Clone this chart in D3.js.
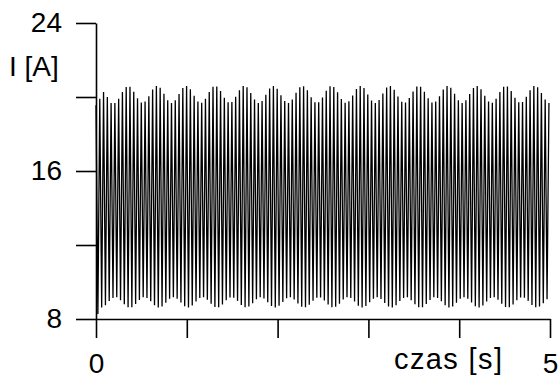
<!DOCTYPE html>
<html>
<head>
<meta charset="utf-8">
<script src="https://cdn.jsdelivr.net/npm/d3@7"></script>
<style>
  body { margin: 0; background: #fff; }
  svg text { font-family: "Liberation Sans", Arial, sans-serif; fill: #000; }
</style>
</head>
<body>
<script>
// current peaks (one per oscillation) and the troughs between them
var peakValues = [
  19.55, 19.91, 20.27, 20.00, 19.68, 19.68, 19.91, 20.27, 20.54,
  20.56, 20.29, 19.93, 19.70, 19.75, 20.04, 20.40, 20.59, 20.50, 20.18, 19.83,
  19.68, 19.82, 20.16, 20.49, 20.60, 20.42, 20.07, 19.76, 19.69, 19.91,
  20.27, 20.55, 20.57, 20.32, 19.96, 19.71, 19.73, 20.01, 20.37, 20.59,
  20.52, 20.22, 19.86, 19.68, 19.79, 20.12, 20.46, 20.60, 20.45, 20.10,
  19.78, 19.68, 19.87, 20.23, 20.53, 20.58, 20.36, 19.99, 19.72, 19.71,
  19.97, 20.34, 20.58, 20.54, 20.25, 19.89, 19.69, 19.77, 20.08, 20.43,
  20.60, 20.48, 20.14, 19.81, 19.68, 19.84, 20.19,
  20.51, 20.59, 20.39, 20.03, 19.74, 19.70, 19.94, 20.30, 20.57, 20.56,
  20.29, 19.93, 19.70, 19.75, 20.04, 20.40, 20.59, 20.50, 20.18, 19.83,
  19.68, 19.82, 20.16, 20.49, 20.60, 20.42, 20.07, 19.76, 19.69, 19.91,
  20.27, 20.55, 20.57, 20.32, 19.96, 19.71, 19.73, 20.01, 20.37, 20.59,
  20.52, 20.22, 19.86, 19.68
];

var troughValues = [
  8.27, 8.62, 8.75, 8.97, 9.14, 9.17, 9.02, 8.80, 8.64,
  8.64, 8.81, 9.03, 9.17, 9.14, 8.96, 8.74, 8.62, 8.68, 8.88, 9.09,
  9.18, 9.10, 8.89, 8.69, 8.62, 8.73, 8.94, 9.13, 9.17, 9.04,
  8.82, 8.65, 8.64, 8.79, 9.01, 9.16, 9.15, 8.98, 8.76, 8.63,
  8.67, 8.85, 9.07, 9.18, 9.11, 8.91, 8.70, 8.62, 8.71, 8.92,
  9.12, 9.18, 9.06, 8.84, 8.66, 8.63, 8.77, 8.99, 9.15, 9.16,
  9.00, 8.78, 8.63, 8.66, 8.83, 9.05, 9.17, 9.13, 8.94, 8.72,
  8.62, 8.70, 8.90, 9.10, 9.18, 9.08, 8.87,
  8.67, 8.62, 8.75, 8.97, 9.14, 9.17, 9.02, 8.80, 8.64, 8.64,
  8.81, 9.03, 9.17, 9.14, 8.96, 8.74, 8.62, 8.68, 8.88, 9.09,
  9.18, 9.10, 8.89, 8.69, 8.62, 8.73, 8.94, 9.13, 9.17, 9.04,
  8.82, 8.65, 8.64, 8.79, 9.01, 9.16, 9.15, 8.98, 8.76, 8.63,
  8.67, 8.85, 9.07
];

var oscPeriod = 0.04157;           // s, time between neighbouring peaks
var yTicks = [8, 12, 16, 20, 24];
var yLabels = [8, 16, 24];
var xTicks = [0, 1, 2, 3, 4, 5];
var xLabels = [0, 5];

var width = 560, height = 380;

var x = d3.scaleLinear().domain([0, 5]).range([96, 550]);
var y = d3.scaleLinear().domain([8, 24]).range([319, 23]);

// zig-zag: peak, trough, peak, ...
var pts = [];
peakValues.forEach(function(v, i) {
  pts.push([i * oscPeriod, v]);
  if (i < troughValues.length) pts.push([(i + 0.5) * oscPeriod, troughValues[i]]);
});

var svg = d3.select("body").append("svg")
  .attr("width", width)
  .attr("height", height);

svg.append("rect").attr("width", width).attr("height", height).attr("fill", "#fff");

svg.append("path")
  .datum(pts)
  .attr("fill", "none")
  .attr("stroke", "#000")
  .attr("stroke-width", 1.3)
  .attr("d", d3.line()
    .x(function(d) { return x(d[0]); })
    .y(function(d) { return y(d[1]); }));

svg.append("g")
  .attr("transform", "translate(96,0)")
  .call(d3.axisLeft(y)
    .tickValues(yTicks)
    .tickSize(20)
    .tickSizeOuter(0)
    .tickPadding(14)
    .tickFormat(function(d) { return yLabels.indexOf(d) >= 0 ? d : ""; }));

svg.append("g")
  .attr("transform", "translate(0,319)")
  .call(d3.axisBottom(x)
    .tickValues(xTicks)
    .tickSize(19)
    .tickSizeOuter(0)
    .tickPadding(15)
    .tickFormat(function(d) { return xLabels.indexOf(d) >= 0 ? d : ""; }));

svg.selectAll(".domain, .tick line")
  .attr("stroke", "#000")
  .attr("stroke-width", 1.6);

svg.selectAll(".tick text")
  .style("font-size", "28px")
  .style("font-family", "'Liberation Sans', Arial, sans-serif")
  .attr("fill", "#000");

svg.append("text")
  .attr("x", 9)
  .attr("y", 76)
  .style("font-size", "28px")
  .text("I [A]");

svg.append("text")
  .attr("x", 394)
  .attr("y", 369)
  .attr("textLength", 108)
  .style("font-size", "29px")
  .text("czas [s]");
</script>
</body>
</html>
